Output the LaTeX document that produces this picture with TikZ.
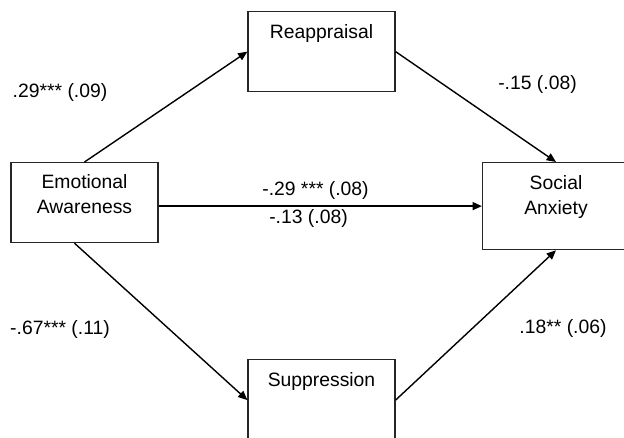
\documentclass[tikz,border=0pt]{standalone}
\usepackage{fontspec}
\setmainfont{Liberation Sans}
\usetikzlibrary{arrows.meta}
\begin{document}
\begin{tikzpicture}[x=0.75pt,y=-0.75pt,
  every node/.style={font=\fontsize{14.5}{18.75}\selectfont},
  box/.style={draw=black!85, line width=0.9pt, rectangle, inner sep=0pt,
    minimum width=110.25pt, anchor=north, align=center},
  lbl/.style={anchor=base, inner sep=0pt},
  arr/.style={line width=1.05pt, -{Triangle[length=7pt,width=6pt]}}]
\clip (0,0) rectangle (624,437);
\node[box, text height=19.5pt, text depth=40.5pt] (ea) at (84.5,162)
  {\parbox[t]{100pt}{\centering Emotional\\Awareness}};
\node[box, text height=20.25pt, text depth=39.75pt] (rea) at (321.5,11) {Reappraisal};
\node[box, text height=20.25pt, text depth=40.5pt] (sup) at (321.5,359) {Suppression};
\node[box, text height=20.25pt, text depth=45pt] (sa) at (556,162)
  {\parbox[t]{100pt}{\centering Social\\Anxiety}};
\draw[arr] (ea.north) -- (rea.west);
\draw[arr] (rea.east) -- (sa.north);
\draw[arr] (ea.east |- sa.west) -- (sa.west);
\draw[arr] ([xshift=-7.5pt]ea.south) -- (sup.west);
\draw[arr] (sup.east) -- (sa.south);
\node[lbl] (l1) at (60,97) {.29*** (.09)};
\node[lbl] (l2) at (537.5,89) {-.15 (.08)};
\node[lbl] (l3) at (315.5,195) {-.29 *** (.08)};
\node[lbl] (l4) at (308.5,223) {-.13 (.08)};
\node[lbl] (l5) at (60,334) {-.67*** (.11)};
\node[lbl] (l6) at (563,333) {.18** (.06)};
\end{tikzpicture}
\end{document}
